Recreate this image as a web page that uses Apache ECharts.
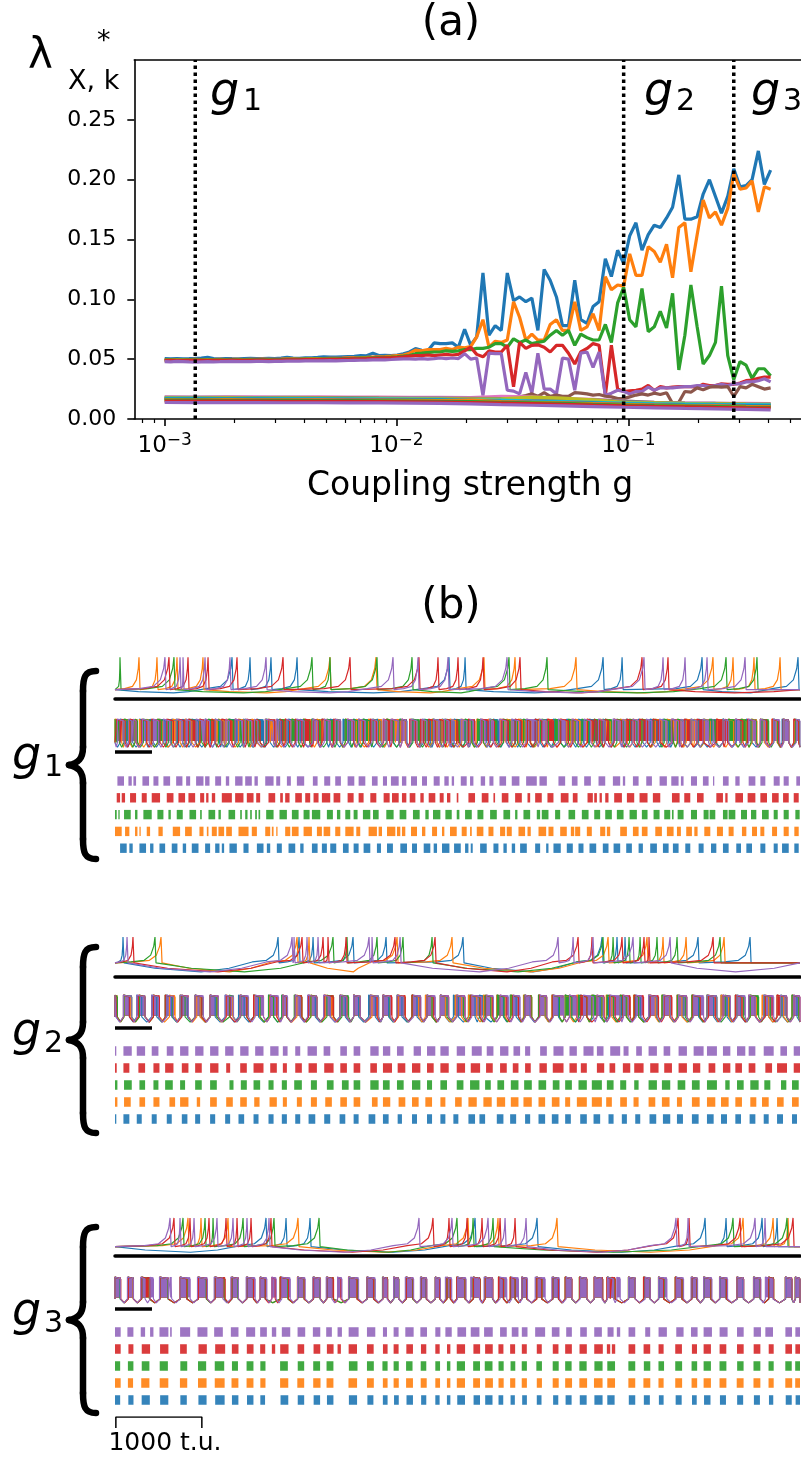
<!DOCTYPE html>
<html><head><meta charset="utf-8">
<script src="https://cdn.jsdelivr.net/npm/echarts@6/dist/echarts.min.js"></script>
<style>html,body{margin:0;padding:0;background:#fff}#c{width:801px;height:1460px}</style>
</head><body><div id="c"></div>
<script>
// ---------------- Panel (a) data ----------------
const log10G = [-3.000,-2.974,-2.947,-2.921,-2.894,-2.868,-2.842,-2.815,-2.789,-2.762,
-2.736,-2.710,-2.683,-2.657,-2.630,-2.604,-2.578,-2.551,-2.525,-2.498,
-2.472,-2.446,-2.419,-2.393,-2.366,-2.340,-2.314,-2.287,-2.261,-2.234,
-2.208,-2.182,-2.155,-2.129,-2.102,-2.076,-2.050,-2.023,-1.997,-1.970,
-1.944,-1.918,-1.891,-1.865,-1.838,-1.812,-1.786,-1.759,-1.733,-1.706,
-1.680,-1.654,-1.627,-1.601,-1.574,-1.548,-1.522,-1.495,-1.469,-1.442,
-1.416,-1.390,-1.363,-1.337,-1.310,-1.284,-1.258,-1.231,-1.205,-1.178,
-1.152,-1.126,-1.099,-1.073,-1.046,-1.020,-0.994,-0.967,-0.941,-0.914,
-0.888,-0.862,-0.835,-0.809,-0.782,-0.756,-0.730,-0.703,-0.677,-0.650,
-0.624,-0.598,-0.571,-0.545,-0.518,-0.492,-0.466,-0.439,-0.413,-0.386];

const lamBlue = [0.0505,0.0502,0.0505,0.0503,0.0504,0.0506,0.0510,0.0515,0.0505,0.0503,
0.0505,0.0504,0.0503,0.0505,0.0506,0.0505,0.0504,0.0506,0.0505,0.0510,
0.0515,0.0508,0.0507,0.0510,0.0512,0.0515,0.0520,0.0518,0.0517,0.0520,
0.0522,0.0523,0.0530,0.0528,0.0550,0.0530,0.0532,0.0530,0.0535,0.0545,
0.0560,0.0588,0.0574,0.0570,0.0636,0.0630,0.0630,0.0636,0.0600,0.0750,
0.0616,0.0686,0.1220,0.0700,0.0780,0.0740,0.1220,0.0990,0.1020,0.0980,
0.1010,0.0740,0.1250,0.1160,0.1020,0.0780,0.0780,0.1160,0.0830,0.0800,
0.0940,0.0980,0.1340,0.1190,0.1410,0.1300,0.1530,0.1640,0.1410,0.1540,
0.1620,0.1600,0.1680,0.1770,0.2040,0.1670,0.1670,0.1690,0.1880,0.2000,
0.1860,0.1720,0.1860,0.2090,0.1940,0.1950,0.2000,0.2240,0.1960,0.2080];

const lamOrange = [0.0495,0.0497,0.0496,0.0495,0.0497,0.0498,0.0497,0.0496,0.0497,0.0498,
0.0497,0.0499,0.0498,0.0497,0.0498,0.0499,0.0500,0.0498,0.0499,0.0500,
0.0502,0.0503,0.0501,0.0503,0.0505,0.0504,0.0505,0.0507,0.0506,0.0508,
0.0510,0.0511,0.0513,0.0515,0.0518,0.0520,0.0522,0.0525,0.0530,0.0535,
0.0550,0.0575,0.0570,0.0580,0.0580,0.0580,0.0590,0.0580,0.0600,0.0595,
0.0605,0.0686,0.0830,0.0600,0.0650,0.0640,0.0660,0.0980,0.0850,0.0660,
0.0710,0.0660,0.0660,0.0790,0.0830,0.0740,0.0740,0.0980,0.0740,0.0770,
0.0880,0.0740,0.1190,0.1080,0.1120,0.1110,0.1380,0.1200,0.1200,0.1440,
0.1400,0.1310,0.1460,0.1180,0.1600,0.1640,0.1230,0.1540,0.1830,0.1680,
0.1730,0.1620,0.1760,0.2050,0.1920,0.1930,0.1990,0.1730,0.1940,0.1920];

const lamGreen = [0.0492,0.0494,0.0493,0.0492,0.0494,0.0495,0.0494,0.0493,0.0494,0.0495,
0.0494,0.0496,0.0495,0.0494,0.0495,0.0496,0.0497,0.0495,0.0496,0.0497,
0.0498,0.0499,0.0498,0.0500,0.0501,0.0500,0.0502,0.0503,0.0502,0.0504,
0.0505,0.0506,0.0508,0.0509,0.0511,0.0513,0.0515,0.0517,0.0520,0.0525,
0.0530,0.0546,0.0550,0.0555,0.0560,0.0560,0.0570,0.0565,0.0570,0.0580,
0.0580,0.0590,0.0590,0.0600,0.0630,0.0630,0.0600,0.0670,0.0640,0.0660,
0.0630,0.0640,0.0650,0.0700,0.0740,0.0700,0.0740,0.0616,0.0710,0.0680,
0.0660,0.0660,0.0790,0.0640,0.0970,0.1100,0.0830,0.0770,0.1090,0.0730,
0.0770,0.0900,0.0760,0.1050,0.0410,0.0700,0.1120,0.0770,0.0460,0.0530,
0.0640,0.1110,0.0530,0.0330,0.0480,0.0450,0.0340,0.0420,0.0420,0.0360];

const lamRed = [0.0488,0.0490,0.0489,0.0488,0.0490,0.0491,0.0490,0.0489,0.0490,0.0491,
0.0490,0.0492,0.0491,0.0490,0.0491,0.0492,0.0493,0.0491,0.0492,0.0493,
0.0494,0.0495,0.0494,0.0496,0.0497,0.0496,0.0498,0.0499,0.0498,0.0500,
0.0501,0.0502,0.0503,0.0504,0.0506,0.0508,0.0510,0.0512,0.0515,0.0520,
0.0525,0.0530,0.0530,0.0535,0.0530,0.0535,0.0540,0.0535,0.0540,0.0570,
0.0600,0.0540,0.0520,0.0570,0.0560,0.0560,0.0616,0.0270,0.0640,0.0590,
0.0616,0.0620,0.0600,0.0560,0.0616,0.0616,0.0550,0.0460,0.0560,0.0590,
0.0630,0.0616,0.0196,0.0616,0.0250,0.0230,0.0235,0.0240,0.0250,0.0280,
0.0238,0.0270,0.0260,0.0266,0.0270,0.0270,0.0270,0.0266,0.0290,0.0280,
0.0280,0.0294,0.0290,0.0290,0.0300,0.0320,0.0325,0.0340,0.0350,0.0350];

const lamPurple = [0.0480,0.0478,0.0481,0.0480,0.0477,0.0476,0.0478,0.0480,0.0478,0.0479,
0.0480,0.0481,0.0480,0.0479,0.0480,0.0481,0.0482,0.0480,0.0481,0.0482,
0.0483,0.0484,0.0483,0.0485,0.0486,0.0485,0.0486,0.0487,0.0486,0.0488,
0.0489,0.0490,0.0491,0.0492,0.0494,0.0495,0.0494,0.0497,0.0500,0.0502,
0.0503,0.0500,0.0505,0.0500,0.0505,0.0510,0.0505,0.0510,0.0505,0.0546,
0.0500,0.0510,0.0196,0.0550,0.0546,0.0546,0.0240,0.0233,0.0210,0.0390,
0.0216,0.0550,0.0250,0.0250,0.0210,0.0510,0.0500,0.0240,0.0550,0.0560,
0.0430,0.0560,0.0196,0.0216,0.0240,0.0230,0.0210,0.0230,0.0230,0.0266,
0.0240,0.0260,0.0260,0.0260,0.0266,0.0270,0.0270,0.0280,0.0280,0.0270,
0.0280,0.0290,0.0280,0.0294,0.0294,0.0310,0.0310,0.0320,0.0336,0.0310];

const lamBrown = [0.0172,0.0173,0.0172,0.0171,0.0172,0.0173,0.0172,0.0172,0.0171,0.0172,
0.0172,0.0173,0.0172,0.0171,0.0172,0.0172,0.0173,0.0172,0.0171,0.0172,
0.0172,0.0172,0.0171,0.0172,0.0172,0.0171,0.0172,0.0171,0.0170,0.0171,
0.0170,0.0171,0.0170,0.0170,0.0169,0.0170,0.0169,0.0170,0.0168,0.0169,
0.0168,0.0168,0.0167,0.0168,0.0175,0.0168,0.0167,0.0166,0.0167,0.0166,
0.0170,0.0168,0.0172,0.0170,0.0175,0.0172,0.0176,0.0180,0.0185,0.0196,
0.0210,0.0190,0.0220,0.0190,0.0200,0.0190,0.0190,0.0220,0.0216,0.0210,
0.0200,0.0205,0.0190,0.0185,0.0170,0.0170,0.0185,0.0200,0.0210,0.0200,
0.0216,0.0205,0.0220,0.0130,0.0140,0.0230,0.0224,0.0260,0.0244,0.0266,
0.0270,0.0266,0.0270,0.0190,0.0270,0.0260,0.0290,0.0270,0.0250,0.0260];

// lower modes, sampled every 5th coupling value
const log10GSparse = [-3.000,-2.868,-2.736,-2.604,-2.472,-2.340,-2.208,-2.076,-1.944,-1.812,-1.680,-1.548,-1.416,-1.284,-1.152,-1.020,-0.888,-0.756,-0.624,-0.492,-0.386];
const lamPink = [0.0185,0.0184,0.0186,0.0185,0.0184,0.0185,0.0183,0.0182,0.0180,0.0181,0.0178,0.0190,0.0185,0.0170,0.0165,0.0150,0.0140,0.0135,0.0132,0.0130,0.0128];
const lamGray = [0.0180,0.0181,0.0180,0.0179,0.0180,0.0178,0.0178,0.0176,0.0175,0.0174,0.0172,0.0170,0.0168,0.0165,0.0160,0.0150,0.0140,0.0133,0.0130,0.0127,0.0125];
const lamOlive = [0.0176,0.0175,0.0176,0.0175,0.0174,0.0174,0.0173,0.0172,0.0170,0.0168,0.0166,0.0168,0.0182,0.0175,0.0160,0.0140,0.0135,0.0130,0.0127,0.0124,0.0122];
const lamCyan = [0.0172,0.0172,0.0171,0.0172,0.0170,0.0170,0.0169,0.0168,0.0166,0.0164,0.0160,0.0158,0.0150,0.0145,0.0140,0.0132,0.0128,0.0125,0.0122,0.0120,0.0118];
const lamBlue2 = [0.0167,0.0166,0.0167,0.0166,0.0165,0.0165,0.0164,0.0162,0.0160,0.0158,0.0155,0.0148,0.0142,0.0138,0.0132,0.0125,0.0120,0.0117,0.0115,0.0112,0.0110];
const lamOrange2 = [0.0162,0.0161,0.0162,0.0161,0.0160,0.0160,0.0158,0.0157,0.0155,0.0153,0.0158,0.0145,0.0140,0.0135,0.0128,0.0122,0.0117,0.0112,0.0110,0.0106,0.0104];
const lamGreen2 = [0.0157,0.0157,0.0156,0.0156,0.0155,0.0154,0.0153,0.0152,0.0150,0.0148,0.0145,0.0140,0.0135,0.0130,0.0122,0.0117,0.0112,0.0108,0.0104,0.0100,0.0098];
const lamRed2 = [0.0150,0.0150,0.0149,0.0149,0.0148,0.0148,0.0147,0.0146,0.0144,0.0142,0.0138,0.0133,0.0128,0.0123,0.0116,0.0110,0.0105,0.0101,0.0097,0.0094,0.0092];
const lamPurple2 = [0.0138,0.0137,0.0138,0.0137,0.0136,0.0136,0.0135,0.0134,0.0132,0.0130,0.0126,0.0120,0.0115,0.0110,0.0104,0.0098,0.0093,0.0088,0.0084,0.0080,0.0077];

const gMarksLog10 = [-2.868, -1.020, -0.545];
const xMajorTicks = [-3, -2, -1];
const xMinorTicks = [-3.097,-3.046,-2.699,-2.523,-2.398,-2.301,-2.222,-2.155,-2.097,-2.046,
  -1.699,-1.523,-1.398,-1.301,-1.222,-1.155,-1.097,-1.046,-0.699,-0.523,-0.398,-0.301];
const yTicks = [0, 0.05, 0.10, 0.15, 0.20, 0.25];

// ---------------- Panel (b) data (time in t.u.) ----------------
const g1SpikesBlue = [1361,1570,1814,2117,3884,4071,5676,5897,6827,7943];
const g1SpikesOrange = [279,488,721,1023,2500,3035,4291,4652,5361,6954,7187,7431,7734];
const g1SpikesGreen = [58,686,2291,2500,3047,3454,4582,5024,7106,7466];
const g1SpikesRed = [628,849,1082,1419,1954,2733,3535,3756,3989,4280,4710,6129,6431];
const g1SpikesPurple = [581,756,791,1047,1337,1756,3233,3524,3873,4559,6152,6373,6629,6885,7327];

const g2SpikesBlue = [93,1896,2140,2303,2768,3152,4047,5664,5838,5931,6780,7385];
const g2SpikesOrange = [535,2117,2256,3280,3919,5734,6187,6373,6641,7083];
const g2SpikesGreen = [465,2535,2698,3047,3349,3687,5675,5792,5978,6106,6303,6536,7036];
const g2SpikesRed = [209,2175,2419,2477,2687,3256,3722,5385,5547,5896,6152,6210,6955];
const g2SpikesPurple = [140,2059,2082,2233,2361,2954,2989,3315,5152,5327,5559,6024,6455];

const g3SpikesBlue = [1756,1989,2268,4187,4908,6862,7106,7525,7699];
const g3SpikesOrange = [849,1000,1314,2128,4105,4454,5140,7304,7653,7827];
const g3SpikesGreen = [791,1047,1140,1489,1849,2373,3977,4164,4396,7187,7815];
const g3SpikesRed = [686,872,1093,1291,1419,1582,1814,3698,3884,4094,4268,4478,4652,6548,6676,7269,7885];
const g3SpikesPurple = [640,756,919,1186,1372,1535,1791,3535,3919,4338,4536,4780,6524,6664,7443,7559];

const g1BurstsPurple = [[28,105],[156,195],[214,245],[319,396],[447,505],[563,641],[711,784],[827,874],[943,1029],[1048,1099],[1165,1234],[1289,1328],[1397,1483],[1514,1591],[1622,1661],[1747,1844],[1875,1921],[1999,2045],[2115,2200],[2301,2356],[2433,2503],[2561,2627],[2705,2783],[2833,2911],[2988,3054],[3116,3163],[3209,3299],[3337,3388],[3442,3512],[3570,3628],[3706,3776],[3830,3881],[3916,3943],[4021,4090],[4129,4168],[4253,4304],[4354,4401],[4471,4548],[4614,4703],[4781,4905],[4936,5022],[5157,5235],[5313,5379],[5456,5534],[5623,5701],[5790,5875],[5906,5933],[6023,6089],[6178,6244],[6333,6418],[6469,6554],[6581,6612],[6698,6768],[6837,6903],[6954,6969],[7070,7136],[7214,7264],[7369,7447],[7505,7563],[7660,7730],[7776,7835],[7923,7966]];
const g1BurstsRed = [[20,59],[78,117],[175,245],[311,369],[427,524],[602,680],[738,815],[854,932],[990,1037],[1060,1087],[1126,1165],[1242,1359],[1397,1494],[1533,1611],[1642,1688],[1785,1863],[1921,1952],[1979,2030],[2096,2173],[2212,2270],[2309,2367],[2406,2503],[2542,2620],[2705,2775],[2833,2891],[2969,3039],[3124,3194],[3221,3299],[3337,3388],[3427,3493],[3551,3590],[3648,3725],[3776,3822],[3861,3900],[3974,3993],[4110,4187],[4265,4343],[4401,4420],[4498,4575],[4653,4731],[4797,4828],[4886,4963],[5029,5099],[5184,5274],[5324,5379],[5495,5557],[5573,5604],[5635,5662],[5701,5739],[5805,5895],[5953,6038],[6100,6193],[6255,6341],[6477,6566],[6620,6690],[6768,6845],[6993,7070],[7097,7124],[7214,7303],[7357,7447],[7505,7582],[7641,7718],[7769,7835],[7893,7951]];
const g1BurstsGreen = [[0,20],[39,51],[105,183],[233,261],[330,427],[493,563],[621,649],[718,788],[866,943],[990,1009],[1087,1165],[1203,1231],[1320,1397],[1456,1475],[1514,1541],[1572,1591],[1630,1650],[1669,1688],[1758,1844],[1913,1999],[2057,2135],[2193,2263],[2290,2387],[2464,2534],[2581,2620],[2678,2736],[2775,2821],[2883,2969],[3000,3066],[3155,3240],[3310,3388],[3465,3543],[3609,3648],[3698,3784],[3842,3916],[3974,4005],[4071,4149],[4215,4284],[4362,4440],[4517,4595],[4653,4680],[4750,4828],[4905,4944],[4963,5041],[5118,5177],[5274,5351],[5429,5507],[5573,5642],[5701,5778],[5836,5914],[5984,6069],[6127,6193],[6263,6333],[6387,6457],[6477,6496],[6543,6612],[6698,6768],[6845,6903],[6915,6981],[7070,7124],[7136,7214],[7280,7350],[7396,7458],[7524,7602],[7660,7707],[7776,7835],[7912,7962]];
const g1BurstsOrange = [[0,78],[117,167],[233,261],[284,299],[369,408],[505,555],[672,757],[815,893],[982,1029],[1068,1087],[1126,1184],[1203,1269],[1293,1359],[1436,1553],[1591,1650],[1747,1805],[1824,1844],[1875,1890],[1979,2038],[2057,2135],[2193,2290],[2348,2406],[2426,2503],[2561,2620],[2678,2775],[2806,2852],[2949,3046],[3066,3105],[3163,3260],[3279,3318],[3337,3376],[3442,3512],[3570,3609],[3687,3745],[3803,3830],[3896,3974],[4032,4090],[4129,4149],[4207,4284],[4343,4401],[4478,4537],[4556,4614],[4692,4769],[4797,4835],[4925,5014],[5041,5099],[5177,5254],[5301,5340],[5351,5410],[5487,5545],[5642,5701],[5720,5759],[5875,5953],[6023,6089],[6127,6193],[6283,6360],[6418,6496],[6535,6581],[6643,6709],[6737,6775],[6853,6923],[7000,7070],[7136,7194],[7291,7342],[7408,7466],[7505,7551],[7641,7699],[7776,7835],[7900,7951]];
const g1BurstsBlue = [[59,136],[167,206],[284,361],[408,447],[517,583],[660,726],[788,827],[893,971],[1048,1106],[1165,1215],[1242,1269],[1331,1417],[1494,1553],[1650,1727],[1766,1805],[1882,1940],[2018,2096],[2154,2193],[2290,2356],[2406,2464],[2503,2573],[2651,2717],[2775,2833],[2891,2969],[3046,3093],[3163,3232],[3318,3396],[3454,3512],[3590,3667],[3706,3745],[3803,3889],[3943,4021],[4071,4110],[4137,4160],[4246,4323],[4401,4459],[4517,4556],[4614,4653],[4711,4789],[4886,4944],[5014,5041],[5099,5184],[5254,5324],[5390,5448],[5518,5596],[5673,5739],[5798,5875],[5945,6011],[6089,6139],[6224,6302],[6372,6438],[6488,6554],[6632,6690],[6787,6845],[6931,6993],[7070,7136],[7225,7280],[7342,7408],[7505,7563],[7660,7707],[7757,7835],[7900,7951]];

const g2BurstsPurple = [[0,12],[98,195],[253,350],[427,505],[602,680],[757,854],[932,1029],[1106,1203],[1281,1378],[1456,1553],[1630,1727],[1805,1902],[1952,2007],[2096,2154],[2239,2348],[2426,2503],[2620,2697],[2775,2852],[2969,3066],[3116,3201],[3279,3357],[3473,3558],[3628,3725],[3784,3881],[3974,4071],[4149,4265],[4323,4401],[4478,4575],[4634,4711],[4769,4828],[4944,5022],[5099,5216],[5285,5371],[5448,5565],[5604,5681],[5759,5875],[5914,5972],[6061,6127],[6205,6302],[6380,6457],[6554,6651],[6729,6845],[6884,7000],[7070,7156],[7233,7330],[7369,7447],[7544,7660],[7738,7815],[7893,7966]];
const g2BurstsRed = [[0,20],[98,167],[272,350],[447,517],[583,680],[777,854],[932,1009],[1106,1203],[1293,1339],[1456,1533],[1611,1727],[1805,1882],[1952,1999],[2096,2173],[2251,2348],[2433,2542],[2620,2697],[2775,2852],[2969,3046],[3116,3221],[3287,3376],[3454,3551],[3628,3706],[3784,3881],[3974,4071],[4137,4246],[4315,4393],[4478,4556],[4626,4692],[4769,4835],[4936,5022],[5091,5216],[5285,5371],[5417,5487],[5604,5689],[5751,5817],[5906,5992],[6038,6147],[6224,6321],[6387,6477],[6554,6651],[6721,6806],[6903,6981],[7070,7156],[7214,7291],[7369,7447],[7563,7641],[7699,7815],[7893,7966]];
const g2BurstsGreen = [[0,28],[105,195],[284,350],[447,505],[583,672],[757,815],[932,1009],[1106,1184],[1331,1378],[1463,1533],[1611,1688],[1785,1844],[1940,1999],[2084,2173],[2278,2348],[2464,2542],[2639,2717],[2775,2852],[2969,3066],[3116,3194],[3279,3357],[3454,3551],[3628,3687],[3784,3861],[3974,4052],[4129,4238],[4304,4370],[4447,4525],[4603,4692],[4758,4847],[4925,5014],[5091,5169],[5235,5313],[5390,5487],[5545,5662],[5720,5798],[5875,5945],[6038,6089],[6205,6302],[6360,6457],[6543,6632],[6709,6799],[6884,7000],[7097,7148],[7233,7311],[7388,7485],[7551,7621],[7745,7807],[7873,7951]];
const g2BurstsOrange = [[0,28],[105,183],[284,350],[447,517],[633,699],[757,854],[951,990],[1106,1184],[1293,1370],[1456,1533],[1619,1681],[1797,1882],[1952,1999],[2115,2173],[2278,2348],[2445,2522],[2620,2697],[2775,2852],[2988,3054],[3116,3201],[3298,3376],[3454,3531],[3609,3687],[3784,3842],[3955,4032],[4110,4207],[4284,4381],[4440,4537],[4603,4692],[4750,4847],[4925,5002],[5080,5169],[5235,5293],[5371,5487],[5545,5662],[5712,5778],[5875,5953],[6030,6089],[6205,6283],[6360,6449],[6535,6593],[6709,6799],[6884,6981],[7047,7136],[7214,7291],[7388,7458],[7524,7602],[7699,7776],[7873,7951]];
const g2BurstsBlue = [[0,12],[98,167],[253,311],[427,485],[602,660],[777,842],[932,990],[1106,1165],[1281,1339],[1436,1502],[1611,1669],[1785,1844],[1940,1999],[2096,2154],[2251,2329],[2433,2503],[2612,2678],[2775,2833],[2949,3027],[3116,3182],[3287,3337],[3454,3512],[3628,3687],[3784,3842],[3935,3993],[4110,4187],[4238,4304],[4440,4517],[4595,4665],[4769,4828],[4925,5002],[5080,5157],[5235,5301],[5410,5487],[5565,5642],[5739,5798],[5894,5953],[6050,6108],[6216,6294],[6372,6457],[6535,6605],[6709,6787],[6884,6962],[7047,7117],[7214,7280],[7380,7447],[7544,7602],[7699,7768],[7873,7931]];

const g3BurstsPurple = [[0,66],[144,214],[299,350],[408,447],[517,621],[641,660],[757,874],[959,1075],[1153,1254],[1347,1436],[1525,1630],[1688,1766],[1824,1875],[1940,2038],[2123,2212],[2301,2387],[2456,2522],[2588,2639],[2717,2833],[2930,3027],[3116,3163],[3240,3298],[3376,3473],[3551,3628],[3725,3784],[3842,3916],[3982,4083],[4137,4238],[4292,4393],[4478,4556],[4614,4692],[4731,4797],[4886,5002],[5080,5169],[5247,5313],[5410,5487],[5573,5662],[5728,5798],[5836,5875],[5972,6050],[6166,6224],[6321,6418],[6527,6612],[6698,6775],[6845,6942],[7031,7124],[7233,7311],[7427,7512],[7563,7652],[7796,7873],[7912,7966]];
const g3BurstsRed = [[0,66],[156,214],[311,408],[524,621],[757,835],[971,1068],[1165,1281],[1359,1436],[1533,1611],[1688,1747],[1824,1863],[1921,2018],[2123,2200],[2309,2387],[2464,2542],[2588,2627],[2717,2814],[2930,3008],[3116,3170],[3240,3298],[3388,3465],[3558,3620],[3725,3776],[3861,3900],[3974,4071],[4168,4246],[4304,4393],[4459,4517],[4595,4653],[4731,4789],[4905,4963],[5091,5157],[5235,5313],[5402,5487],[5573,5673],[5720,5759],[5778,5817],[5972,6050],[6147,6224],[6321,6380],[6515,6593],[6709,6768],[6845,6930],[7031,7109],[7233,7311],[7427,7505],[7602,7660],[7796,7873],[7912,7966]];
const g3BurstsGreen = [[0,60],[150,214],[311,400],[520,615],[760,840],[965,1060],[1160,1270],[1360,1430],[1530,1610],[1690,1750],[1920,2010],[2125,2200],[2305,2385],[2460,2540],[2720,2820],[2930,3010],[3110,3170],[3240,3300],[3385,3460],[3555,3620],[3725,3780],[3860,3900],[3975,4070],[4165,4245],[4300,4390],[4460,4520],[4600,4655],[4730,4790],[4900,4965],[5090,5160],[5235,5310],[5400,5485],[5575,5670],[5725,5815],[5970,6050],[6150,6225],[6320,6385],[6515,6595],[6705,6770],[6845,6930],[7030,7110],[7235,7310],[7425,7505],[7600,7660],[7795,7870],[7910,7966]];
const g3BurstsOrange = [[0,66],[150,210],[305,400],[520,620],[755,840],[965,1065],[1160,1275],[1355,1435],[1530,1610],[1690,1750],[1920,2015],[2120,2200],[2305,2390],[2460,2540],[2715,2815],[2930,3010],[3115,3170],[3240,3300],[3385,3465],[3555,3625],[3725,3780],[3860,3900],[3975,4070],[4165,4245],[4305,4395],[4460,4520],[4595,4655],[4730,4790],[4905,4965],[5090,5160],[5235,5315],[5400,5490],[5570,5670],[5725,5815],[5970,6050],[6145,6225],[6320,6380],[6515,6595],[6705,6770],[6845,6930],[7030,7110],[7230,7310],[7425,7505],[7600,7660],[7795,7875],[7910,7966]];
const g3BurstsBlue = [[0,60],[155,215],[310,405],[525,620],[760,835],[970,1065],[1165,1275],[1360,1435],[1535,1610],[1690,1745],[1925,2015],[2125,2200],[2310,2385],[2465,2540],[2720,2815],[2935,3005],[3115,3170],[3245,3300],[3390,3465],[3560,3620],[3725,3775],[3860,3900],[3980,4070],[4170,4245],[4305,4390],[4460,4515],[4600,4650],[4735,4790],[4905,4960],[5095,5155],[5240,5310],[5405,5485],[5575,5670],[5725,5810],[5975,6050],[6150,6220],[6325,6380],[6520,6590],[6710,6765],[6850,6925],[7035,7105],[7235,7305],[7430,7500],[7605,7655],[7800,7870],[7915,7966]];

const timeScaleBar = [10, 1010];   // "1000 t.u." bracket
const midScaleBar = [0, 430];      // short black bar under the middle traces
const T_MAX = 7966;

// ---------------- build ----------------
const C = {blue:'#1f77b4', orange:'#ff7f0e', green:'#2ca02c', red:'#d62728', purple:'#9467bd',
  brown:'#8c564b', pink:'#e377c2', gray:'#7f7f7f', olive:'#bcbd22', cyan:'#17becf'};
const FONT = '"DejaVu Sans", sans-serif';

const grids = [
  {left:134.3, top:60, width:675, height:359},
  {left:115, top:652, width:685, height:47},
  {left:115, top:716, width:685, height:39},
  {left:115, top:772.6, width:685, height:84},
  {left:115, top:930, width:685, height:47},
  {left:115, top:992, width:685, height:39},
  {left:115, top:1042.5, width:685, height:85},
  {left:115, top:1209, width:685, height:47},
  {left:115, top:1274, width:685, height:39},
  {left:115, top:1323.5, width:685, height:85},
  {left:115, top:1417, width:685, height:11}
];

const xA = -3.131, xB = -0.255;
const xAxes = [
  {gridIndex:0, type:'value', min:xA, max:xB, position:'bottom',
   axisLine:{show:true, lineStyle:{color:'#000', width:1.6}},
   axisTick:{show:true, customValues:xMajorTicks, length:7, lineStyle:{color:'#000', width:1.6}},
   axisLabel:{show:true, customValues:xMajorTicks, margin:13, color:'#000',
     formatter:function(v){ const n=Math.round(v); return '{b|10}{s|' + (n<0?'\u2212':'') + Math.abs(n) + '}'; },
     rich:{b:{fontSize:23, fontFamily:FONT, color:'#000', lineHeight:26, verticalAlign:'bottom'},
           s:{fontSize:17, fontFamily:FONT, color:'#000', lineHeight:26, verticalAlign:'top'}}},
   splitLine:{show:false}},
  {gridIndex:0, type:'value', min:xA, max:xB, position:'bottom',
   axisLine:{show:false}, axisLabel:{show:false}, splitLine:{show:false},
   axisTick:{show:true, customValues:xMinorTicks, length:4, lineStyle:{color:'#000', width:1.2}}},
  {gridIndex:0, type:'value', min:xA, max:xB, position:'top',
   axisLine:{show:true, lineStyle:{color:'#000', width:1.6}}, axisTick:{show:false}, axisLabel:{show:false}, splitLine:{show:false}}
];
const yAxes = [
  {gridIndex:0, type:'value', min:0, max:0.3,
   axisLine:{show:true, lineStyle:{color:'#000', width:1.6}},
   axisTick:{show:true, customValues:yTicks, length:7, lineStyle:{color:'#000', width:1.6}},
   axisLabel:{show:true, customValues:yTicks, margin:18, color:'#000',
     formatter:function(v){ return '{n|' + v.toFixed(2) + '}'; },
     rich:{n:{fontSize:22, fontFamily:FONT, color:'#000'}}},
   splitLine:{show:false}}
];
for (let k = 1; k <= 10; k++) {
  const isTop = (k === 1 || k === 4 || k === 7);
  xAxes.push({gridIndex:k, type:'value', min:0, max:T_MAX, show:true,
    axisLine:{show:isTop, onZero:false, lineStyle:{color:'#000', width:3.5}},
    axisTick:{show:false}, axisLabel:{show:false}, splitLine:{show:false}});
  const isRaster = (k === 3 || k === 6 || k === 9);
  yAxes.push({gridIndex:k, type:'value', min:isRaster?-0.5:0, max:isRaster?4.5:1, show:false});
}

const series = [];
const mainSets = [[lamBlue,C.blue],[lamOrange,C.orange],[lamGreen,C.green],[lamRed,C.red],[lamPurple,C.purple],[lamBrown,C.brown]];
mainSets.forEach(function(s){
  series.push({type:'line', xAxisIndex:0, yAxisIndex:0, showSymbol:false, symbol:'none', silent:true,
    data:log10G.map(function(x,i){return [x, s[0][i]];}), lineStyle:{color:s[1], width:3.2}, itemStyle:{color:s[1]}, z:3});
});
const lowSets = [[lamPink,C.pink],[lamGray,C.gray],[lamOlive,C.olive],[lamCyan,C.cyan],[lamBlue2,C.blue],[lamOrange2,C.orange],[lamGreen2,C.green],[lamRed2,C.red],[lamPurple2,C.purple]];
lowSets.forEach(function(s){
  series.push({type:'line', xAxisIndex:0, yAxisIndex:0, showSymbol:false, symbol:'none', silent:true,
    data:log10GSparse.map(function(x,i){return [x, s[0][i]];}), lineStyle:{color:s[1], width:3.2}, itemStyle:{color:s[1]}, z:3});
});
gMarksLog10.forEach(function(g){
  series.push({type:'line', xAxisIndex:0, yAxisIndex:0, showSymbol:false, symbol:'none', silent:true,
    data:[[g,0],[g,0.3]], lineStyle:{color:'#000', width:3.5, type:[3.5,3.5]}, z:5});
});

function spikeTrace(times, P) {
  const pts = [[0, P.base]];
  let prev = 0;
  const sag = P.base - P.dip;
  times.forEach(function(t){
    const gap = t - prev;
    const r = Math.min(gap*0.6, 300);
    if (gap > 1000) {
      pts.push([prev + gap*0.2, P.base - sag*0.6]);
      pts.push([prev + gap*0.5, P.dip]);
      pts.push([t - r - gap*0.15, P.base - sag*0.6]);
    }
    const h = P.peak - P.base;
    pts.push([t - r, P.base + 0.02]);
    pts.push([t - r*0.45, P.base + 0.1*h]);
    pts.push([t - r*0.18, P.base + 0.3*h]);
    pts.push([t - r*0.05, P.base + 0.65*h]);
    pts.push([t, P.peak]);
    pts.push([t + 12, P.base]);
    prev = t + 12;
  });
  const gapEnd = T_MAX - prev;
  if (gapEnd > 1000) {
    pts.push([prev + gapEnd*0.2, P.base - sag*0.6]);
    pts.push([prev + gapEnd*0.5, P.dip]);
    pts.push([prev + gapEnd*0.8, P.base - sag*0.6]);
  }
  pts.push([T_MAX, P.base]);
  return pts;
}
function midTrace(bursts, P) {
  const pts = [[0, P.lo]];
  let prevE = 0;
  bursts.forEach(function(b){
    if (b[0] - prevE > 20) pts.push([(prevE + b[0])/2, P.dip]);
    pts.push([b[0], P.lo], [b[0], P.hi], [b[1], P.hi - 0.05], [b[1], P.lo]);
    prevE = b[1];
  });
  pts.push([T_MAX, P.dip]);
  return pts;
}
function rectRender(yLo, yHi, op) {
  return function(params, api) {
    const s = api.value(0), e = api.value(1), r = api.value(2);
    const lo = (yLo === null) ? r - 0.28 : yLo;
    const hi = (yHi === null) ? r + 0.28 : yHi;
    const a = api.coord([s, hi]), b = api.coord([e, lo]);
    return {type:'rect', shape:{x:a[0], y:a[1], width:Math.max(b[0]-a[0], 1.3), height:b[1]-a[1]},
      style:{fill:api.visual('color'), opacity:op}};
  };
}
const blocks = [
  {grid:1, spikes:[g1SpikesBlue,g1SpikesOrange,g1SpikesGreen,g1SpikesRed,g1SpikesPurple],
   bursts:[g1BurstsBlue,g1BurstsOrange,g1BurstsGreen,g1BurstsRed,g1BurstsPurple],
   top:{peak:0.89, base:0.2, dip:0.13}, mid:{hi:0.92, lo:0.32, dip:0.2, bar:0.077}},
  {grid:4, spikes:[g2SpikesBlue,g2SpikesOrange,g2SpikesGreen,g2SpikesRed,g2SpikesPurple],
   bursts:[g2BurstsBlue,g2BurstsOrange,g2BurstsGreen,g2BurstsRed,g2BurstsPurple],
   top:{peak:0.85, base:0.3, dip:0.11}, mid:{hi:0.92, lo:0.36, dip:0.23, bar:0.077}},
  {grid:7, spikes:[g3SpikesBlue,g3SpikesOrange,g3SpikesGreen,g3SpikesRed,g3SpikesPurple],
   bursts:[g3BurstsBlue,g3BurstsOrange,g3BurstsGreen,g3BurstsRed,g3BurstsPurple],
   top:{peak:0.81, base:0.2, dip:0.08}, mid:{hi:0.92, lo:0.36, dip:0.26, bar:0.1}}
];
const rowColors = [C.blue, C.orange, C.green, C.red, C.purple];
blocks.forEach(function(B){
  const gT = B.grid, gM = B.grid + 1, gR = B.grid + 2;
  rowColors.forEach(function(col, ci){
    series.push({type:'line', xAxisIndex:gT+2, yAxisIndex:gT, showSymbol:false, symbol:'none', silent:true,
      data:spikeTrace(B.spikes[ci], B.top), lineStyle:{color:col, width:1.2}, itemStyle:{color:col}});
  });
  rowColors.forEach(function(col, ci){
    series.push({type:'custom', xAxisIndex:gM+2, yAxisIndex:gM, silent:true, itemStyle:{color:col},
      renderItem:rectRender(B.mid.lo + 0.04, B.mid.hi, 1), encode:{x:[0,1], y:2},
      data:B.bursts[ci].map(function(b){return [b[0], b[1], ci];})});
    series.push({type:'line', xAxisIndex:gM+2, yAxisIndex:gM, showSymbol:false, symbol:'none', silent:true,
      data:midTrace(B.bursts[ci], B.mid), lineStyle:{color:col, width:1.1}, itemStyle:{color:col}});
  });
  series.push({type:'line', xAxisIndex:gM+2, yAxisIndex:gM, showSymbol:false, symbol:'none', silent:true,
    data:[[midScaleBar[0], B.mid.bar],[midScaleBar[1], B.mid.bar]], lineStyle:{color:'#000', width:3.5}, z:4});
  rowColors.forEach(function(col, ci){
    series.push({type:'custom', xAxisIndex:gR+2, yAxisIndex:gR, silent:true, itemStyle:{color:col},
      renderItem:rectRender(null, null, 0.9), encode:{x:[0,1], y:2},
      data:B.bursts[ci].map(function(b){return [b[0], b[1], ci];})});
  });
});
series.push({type:'line', xAxisIndex:12, yAxisIndex:10, showSymbol:false, symbol:'none', silent:true,
  data:[[timeScaleBar[0],0],[timeScaleBar[0],1],[timeScaleBar[1],1],[timeScaleBar[1],0]],
  lineStyle:{color:'#000', width:1.5}});

function txt(x, y, s, size, opt) {
  opt = opt || {};
  return {type:'text', x:x, y:y, silent:true, z:10,
    style:{text:s, fill:'#000', fontSize:size, fontFamily:FONT, fontStyle:opt.italic?'italic':'normal',
      align:opt.align||'left', verticalAlign:opt.va||'middle'}};
}
function brace(top, bottom, xTip, xMid, xEnd) {
  const m = (top + bottom) / 2;
  const st = {stroke:'#000', lineWidth:6.5, fill:null, lineCap:'round'};
  function bz(x1,y1,c1x,c1y,c2x,c2y,x2,y2){
    return {type:'bezierCurve', silent:true, z:10, shape:{x1:x1,y1:y1,cpx1:c1x,cpy1:c1y,cpx2:c2x,cpy2:c2y,x2:x2,y2:y2}, style:st};
  }
  function ln(x1,y1,x2,y2){ return {type:'line', silent:true, z:10, shape:{x1:x1,y1:y1,x2:x2,y2:y2}, style:st}; }
  return [
    bz(xEnd, top, xMid+2, top, xMid, top+6, xMid, top+20),
    ln(xMid, top+20, xMid, m-18),
    bz(xMid, m-18, xMid, m-6, xMid-5, m-2, xTip, m),
    bz(xTip, m, xMid-5, m+2, xMid, m+6, xMid, m+18),
    ln(xMid, m+18, xMid, bottom-20),
    bz(xMid, bottom-20, xMid, bottom-6, xMid+2, bottom, xEnd, bottom)
  ];
}
const graphics = [
  txt(451, 24, '(a)', 42, {align:'center'}),
  txt(451, 607, '(b)', 42, {align:'center'}),
  txt(28, 57, '\u03bb', 42),
  txt(97, 42, '*', 27),
  txt(68, 82, 'X, k', 27),
  txt(470, 486, 'Coupling strength g', 33, {align:'center'}),
  txt(210, 93, 'g', 46, {italic:true}),
  txt(243, 102, '1', 30),
  txt(644, 93, 'g', 46, {italic:true}),
  txt(676, 102, '2', 30),
  txt(751, 93, 'g', 46, {italic:true}),
  txt(783, 102, '3', 30),
  txt(12, 757, 'g', 46, {italic:true}),
  txt(44, 768, '1', 30),
  txt(12, 1033, 'g', 46, {italic:true}),
  txt(44, 1044, '2', 30),
  txt(12, 1313, 'g', 46, {italic:true}),
  txt(44, 1324, '3', 30),
  txt(165, 1443, '1000 t.u.', 25, {align:'center'})
].concat(brace(671, 859, 69, 83, 96), brace(947, 1133, 69, 83, 96), brace(1227, 1413, 69, 83, 96));

const chart = echarts.init(document.getElementById('c'), null, {renderer:'canvas', width:801, height:1460});
chart.setOption({
  animation:false, backgroundColor:'#fff',
  grid:grids, xAxis:xAxes, yAxis:yAxes, series:series, graphic:graphics
});
</script></body></html>
